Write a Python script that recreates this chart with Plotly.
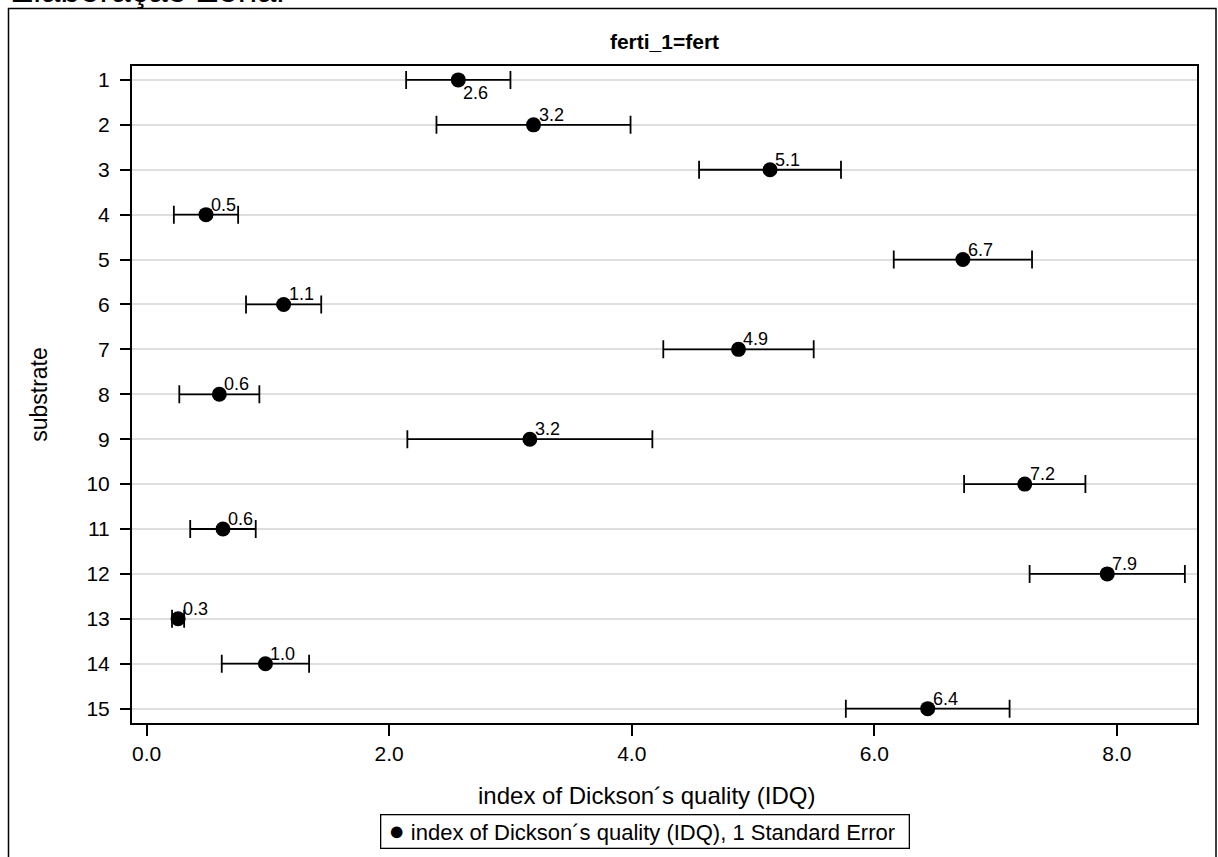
import plotly.graph_objects as go

# ---- data ----
substrate = list(range(1, 16))
idq_mean = [2.57, 3.19, 5.14, 0.49, 6.73, 1.13, 4.88, 0.60, 3.16, 7.24, 0.63, 7.92, 0.26, 0.98, 6.44]
idq_se = [0.43, 0.80, 0.585, 0.265, 0.57, 0.31, 0.62, 0.33, 1.01, 0.50, 0.27, 0.64, 0.05, 0.36, 0.675]
x_ticks = [0, 2, 4, 6, 8]

series_name = "index of Dickson\u00b4s quality (IDQ), 1 Standard Error"
x_title = "index of Dickson\u00b4s quality (IDQ)"
y_title = "substrate"
plot_title = "ferti_1=fert"
top_text = "Elaboração Zonal"

FONT = "Liberation Sans, Arial, sans-serif"

# geometry (pixels)
W, H = 1218, 857
L, R, T, B = 132, 21, 66, 134
pw, ph = W - L - R, H - T - B


def px_to_paper_x(px):
    return (px - L) / pw


def px_to_paper_y(py):
    return (H - B - py) / ph


fig = go.Figure()
fig.add_trace(go.Scatter(
    x=idq_mean, y=substrate, mode="markers",
    name=series_name,
    marker=dict(color="black", size=15, symbol="circle"),
    error_x=dict(type="data", array=idq_se, visible=True, color="black",
                 thickness=1.8, width=9),
    showlegend=False,
))

# value labels
below_rows = {1}
for xv, yv in zip(idq_mean, substrate):
    below = yv in below_rows
    fig.add_annotation(
        x=xv, y=yv, xref="x", yref="y", text=f"{xv:.1f}", showarrow=False,
        xanchor="left", yanchor="top" if below else "bottom",
        xshift=3, yshift=-1 if below else -2,
        font=dict(family=FONT, size=18, color="black"),
    )

# outer frame (left, top, right)
fig.add_shape(type="rect", xref="paper", yref="paper",
              x0=px_to_paper_x(8.5), x1=px_to_paper_x(1216),
              y0=px_to_paper_y(870), y1=px_to_paper_y(8.5),
              line=dict(color="black", width=1.5), fillcolor="rgba(0,0,0,0)",
              layer="below")

# clipped header text at top-left
fig.add_annotation(x=px_to_paper_x(8), y=px_to_paper_y(11), xref="paper", yref="paper",
                   text=top_text, showarrow=False, xanchor="left", yanchor="bottom",
                   font=dict(family=FONT, size=35, color="black"))

# x-axis title (centred like the reference)
fig.add_annotation(x=px_to_paper_x(646), y=px_to_paper_y(795), xref="paper", yref="paper",
                   text=x_title, showarrow=False, xanchor="center", yanchor="middle",
                   font=dict(family=FONT, size=24, color="black"))

# legend box
fig.add_annotation(x=px_to_paper_x(645), y=px_to_paper_y(831), xref="paper", yref="paper",
                   text="\u00a0<span style='font-size:27px'>\u25cf</span> " + series_name + "\u00a0\u00a0",
                   showarrow=False,
                   xanchor="center", yanchor="middle",
                   bordercolor="black", borderwidth=1.3, borderpad=1,
                   bgcolor="white",
                   font=dict(family=FONT, size=22, color="black"))

fig.update_layout(
    width=W, height=H,
    margin=dict(l=L, r=R, t=T, b=B, autoexpand=False),
    paper_bgcolor="white", plot_bgcolor="white",
    font=dict(family=FONT, color="black"),
    title=dict(text="<b>" + plot_title + "</b>", x=px_to_paper_x((L + W - R) / 2), xref="paper",
               xanchor="center", y=1 - 42 / H, yanchor="middle",
               font=dict(family=FONT, size=21, color="black")),
    showlegend=False,
)

fig.update_xaxes(
    range=[-0.12, 8.66], tickvals=x_ticks, tickformat=".1f",
    showgrid=False, zeroline=False,
    showline=True, linecolor="black", linewidth=2, mirror=True,
    ticks="outside", ticklen=11, tickwidth=2, tickcolor="black",
    tickfont=dict(family=FONT, size=21, color="black"),
)
fig.update_yaxes(
    range=[15.32, 0.69], tickvals=substrate,
    showgrid=True, gridcolor="#dedede", gridwidth=2,
    zeroline=False,
    showline=True, linecolor="black", linewidth=2, mirror=True,
    ticks="outside", ticklen=10, tickwidth=2, tickcolor="black",
    tickfont=dict(family=FONT, size=21, color="black"),
    ticklabelstandoff=6,
    title=dict(text=y_title, font=dict(family=FONT, size=23, color="black"), standoff=32),
)

fig.write_html("out.html")
